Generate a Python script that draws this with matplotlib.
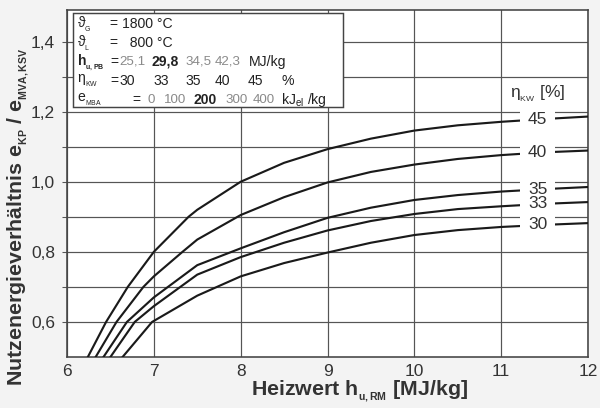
import matplotlib
matplotlib.use('Agg')
from matplotlib import pyplot as plt
from matplotlib.patches import Rectangle

plt.rcParams['font.family'] = ['Liberation Sans', 'DejaVu Sans']
plt.rcParams['mathtext.fontset'] = 'custom'
plt.rcParams['mathtext.rm'] = 'Liberation Sans'
plt.rcParams['mathtext.bf'] = 'Liberation Sans:bold'
plt.rcParams['mathtext.it'] = 'Liberation Sans:italic'

# curves (heating value in MJ/kg -> ratio)
x45 = [6.24, 6.45, 6.70, 7.0, 7.4, 7.5, 8.0, 8.5, 9.0, 9.5, 10.0, 10.5, 11.0, 11.5, 12.0]
y45 = [0.50, 0.60, 0.70, 0.80, 0.90, 0.92, 1.00, 1.054, 1.093, 1.123, 1.146, 1.161, 1.171, 1.179, 1.186]
x40 = [6.33, 6.57, 6.88, 7.0, 7.33, 7.5, 8.0, 8.5, 9.0, 9.5, 10.0, 10.5, 11.0, 11.5, 12.0]
y40 = [0.50, 0.60, 0.70, 0.73, 0.80, 0.835, 0.905, 0.956, 0.998, 1.028, 1.049, 1.065, 1.076, 1.084, 1.089]
x35 = [6.42, 6.69, 7.0, 7.5, 8.0, 8.5, 9.0, 9.5, 10.0, 10.5, 11.0, 11.5, 12.0]
y35 = [0.50, 0.60, 0.67, 0.762, 0.81, 0.856, 0.897, 0.926, 0.948, 0.962, 0.972, 0.979, 0.985]
x33 = [6.50, 6.78, 7.0, 7.5, 8.0, 8.5, 9.0, 9.5, 10.0, 10.5, 11.0, 11.5, 12.0]
y33 = [0.50, 0.60, 0.645, 0.735, 0.785, 0.826, 0.861, 0.888, 0.908, 0.922, 0.930, 0.937, 0.942]
x30 = [6.64, 6.98, 7.5, 8.0, 8.5, 9.0, 9.5, 10.0, 10.5, 11.0, 11.5, 12.0]
y30 = [0.50, 0.60, 0.675, 0.730, 0.768, 0.798, 0.826, 0.848, 0.862, 0.871, 0.877, 0.882]

curve_labels = ['45', '40', '35', '33', '30']
x_ticks = [6, 7, 8, 9, 10, 11, 12]
y_ticks = [0.6, 0.7, 0.8, 0.9, 1.0, 1.1, 1.2, 1.3, 1.4]
y_ticklabels = ['0,6', '', '0,8', '', '1,0', '', '1,2', '', '1,4']

fig = plt.figure(figsize=(600/96, 408/96), dpi=96, facecolor='#f3f3f3')
ax = fig.add_axes([67/600, 51/408, 521/600, 347/408])
ax.set_facecolor('white')

curves = [(x45, y45), (x40, y40), (x35, y35), (x33, y33), (x30, y30)]
for xs, ys in curves:
    ax.plot(xs, ys, color='#1a1a1a', lw=1.6, solid_joinstyle='round', zorder=3)
# white gaps behind the curve labels, then the labels on top
for (xs, ys), lab in zip(curves, curve_labels):
    ax.text(11.42, ys[-2], lab, ha='center', va='center', fontsize=13, color='white',
            zorder=4, bbox=dict(boxstyle='square,pad=0.45', fc='white', ec='none'))
for (xs, ys), lab in zip(curves, curve_labels):
    ax.text(11.42, ys[-2], lab, ha='center', va='center', fontsize=13, color='#333333',
            zorder=5)

ax.text(11.42, 1.25, r'η$_{_\mathregular{KW}}$ [%]', ha='center', va='center',
        fontsize=13, color='#333333', zorder=5)

ax.set_xlim(6, 12)
ax.set_ylim(0.5, 1.49)
ax.set_xticks(x_ticks)
ax.set_xticklabels([str(v) for v in x_ticks])
ax.set_yticks(y_ticks)
ax.set_yticklabels(y_ticklabels)
ax.tick_params(axis='both', labelsize=13, labelcolor='#333333', pad=5)
ax.tick_params(axis='x', length=0)
ax.tick_params(axis='y', length=4, color='#555555')
ax.grid(True, color='#555555', lw=0.9)
for sp in ax.spines.values():
    sp.set_color('#444444')
    sp.set_linewidth(1.2)

ax.set_xlabel(r'Heizwert h$_{_\mathbf{u,RM}}$ [MJ/kg]', fontsize=16, fontweight='bold',
              color='#333333', va='center')
ax.xaxis.set_label_coords(0.562, -0.10)
ax.set_ylabel(r'Nutzenergieverhältnis e$_{_\mathbf{KP}}$ / e$_{_\mathbf{MVA,KSV}}$',
              fontsize=16, fontweight='bold', color='#333333', va='center')
ax.yaxis.set_label_coords(-0.093, 0.405)

# parameter box
def fx(px):
    return (px - 67) / 521.0

def fy(py):
    return (357 - py) / 347.0

ax.add_patch(Rectangle((fx(73), fy(107)), fx(343) - fx(73), fy(13) - fy(107),
                       transform=ax.transAxes, fc='white', ec='#444444', lw=1.1, zorder=6))

dark = '#222222'
grey = '#8a8a8a'
fs = 10.5
rows = [
    [(77, 'ϑ$_{_\\mathregular{G}}$', dark, 'normal'), (110, '= 1800 °C', dark, 'normal')],
    [(77, 'ϑ$_{_\\mathregular{L}}$', dark, 'normal'), (110, '=   800 °C', dark, 'normal')],
    [(77, 'h$_{_\\mathregular{u,PB}}$', dark, 'bold'), (110, '=', dark, 'normal'),
     (119, '25,1', grey, 'normal'), (152, '29,8', dark, 'bold'),
     (185, '34,5', grey, 'normal'), (215, '42,3', grey, 'normal'),
     (249, 'MJ/kg', dark, 'normal')],
    [(77, 'η$_{_\\mathregular{KW}}$', dark, 'normal'), (110, '=', dark, 'normal'),
     (120, '30', dark, 'normal'), (153, '33', dark, 'normal'), (185, '35', dark, 'normal'),
     (215, '40', dark, 'normal'), (248, '45', dark, 'normal'), (282, '%', dark, 'normal')],
    [(77, 'e$_{_\\mathregular{MBA}}$', dark, 'normal'), (132, '=', dark, 'normal'),
     (148, '0', grey, 'normal'), (164, '100', grey, 'normal'), (194, '200', dark, 'bold'),
     (226, '300', grey, 'normal'), (253, '400', grey, 'normal'),
     (281, 'kJ$_\\mathregular{el}$ /kg', dark, 'normal')],
]
row_y = [24, 43, 62, 81, 100]
for py, row in zip(row_y, rows):
    for px, s, c, w in row:
        size = fs - 0.5 if c == grey else fs
        ax.text(fx(px), fy(py), s, transform=ax.transAxes, ha='left', va='center',
                fontsize=size, color=c, fontweight=w, zorder=7)

fig.savefig('out.png', dpi=96, facecolor=fig.get_facecolor())
